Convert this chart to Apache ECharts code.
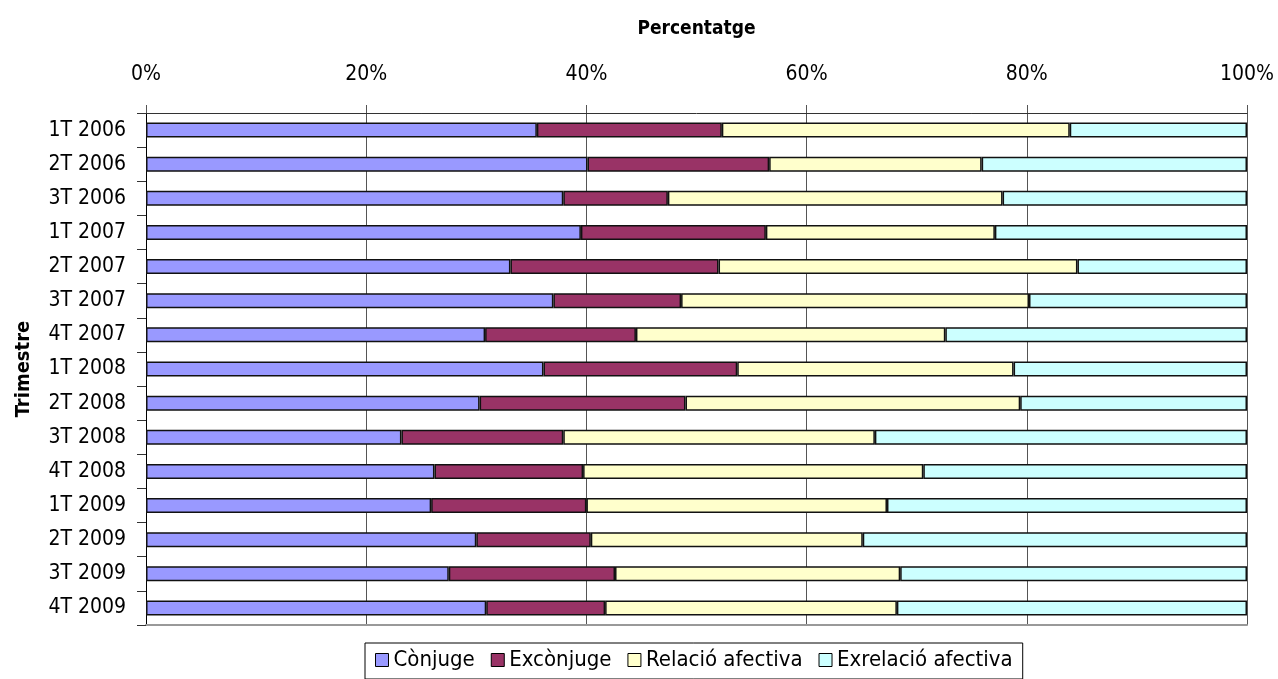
<!DOCTYPE html>
<html>
<head>
<meta charset="utf-8">
<script src="https://cdn.jsdelivr.net/npm/echarts@6/dist/echarts.min.js"></script>
<style>
html,body{margin:0;padding:0;background:#fff;}
#main{width:1278px;height:679px;}
</style>
</head>
<body>
<div id="main"></div>
<script>
// trimestres (eix vertical)
var trimestres = ['1T 2006','2T 2006','3T 2006','1T 2007','2T 2007','3T 2007','4T 2007',
	'1T 2008','2T 2008','3T 2008','4T 2008','1T 2009','2T 2009','3T 2009','4T 2009'];
// percentatges llegits del grafic
var conjuge      = [35.5,40.1,37.9,39.5,33.1,37.0,30.8,36.1,30.3,23.2,26.2,25.9,30.0,27.5,30.9];
var exconjuge    = [16.8,16.5, 9.5,16.8,18.9,11.6,13.7,17.6,18.7,14.7,13.5,14.1,10.4,15.1,10.8];
var relacio      = [31.6,19.3,30.4,20.8,32.6,31.6,28.1,25.1,30.4,28.3,30.9,27.3,24.7,25.9,26.5];
var exrelacio    = [16.1,24.1,22.2,22.9,15.4,19.8,27.4,21.2,20.6,33.8,29.4,32.7,34.9,31.5,31.8];
var noms   = ['Cònjuge','Excònjuge','Relació afectiva','Exrelació afectiva'];
var colors = ['#9999FF','#993366','#FFFFCC','#CCFFFF'];

var FONT = "'Liberation Sans Narrow','Arial Narrow','DejaVu Sans Condensed',sans-serif";

var chart = echarts.init(document.getElementById('main'));
var dades = [conjuge,exconjuge,relacio,exrelacio];
var series = [];
for (var i=0;i<dades.length;++i) {
	series.push({
		name: noms[i],
		type: 'bar',
		stack: 'total',
		barWidth: 15,
		itemStyle: {color: colors[i], borderColor: '#111', borderWidth: 1.5},
		emphasis: {disabled: true},
		data: dades[i]
	});
}

var option = {
	animation: false,
	textStyle: {fontFamily: FONT},
	grid: {left:146, right:31, top:113, bottom:54, containLabel:false},
	legend: {
		data: noms,
		left: 365, top: 643,
		padding: [6,10,8,10],
		borderColor: '#000', borderWidth: 1,
		itemWidth: 13, itemHeight: 13, itemGap: 16,
		icon: 'rect',
		itemStyle: {borderColor:'#000', borderWidth:1},
		textStyle: {fontFamily: FONT, fontSize: 22, color: '#000', padding:[0,0,0,0]}
	},
	xAxis: [{
		type: 'value', position: 'top',
		min: 0, max: 100, interval: 20,
		name: 'Percentatge', nameLocation: 'middle', nameGap: 74,
		nameTextStyle: {fontFamily: FONT, fontSize: 19, fontWeight: 'bold', color: '#000'},
		axisLine: {show: true, lineStyle: {color:'#333', width:1}},
		axisTick: {show: true, length: 8, lineStyle: {color:'#555'}},
		axisLabel: {formatter: '{value}%', fontFamily: FONT, fontSize: 21, color:'#000', margin: 28},
		splitLine: {show: true, lineStyle: {color:'#555', width:1}}
	},{
		type: 'value', position: 'bottom',
		min: 0, max: 100,
		axisLine: {show: true, lineStyle: {color:'#999', width:2}},
		axisTick: {show:false}, axisLabel: {show:false}, splitLine: {show:false}
	}],
	yAxis: {
		type: 'category', inverse: true,
		data: trimestres,
		name: 'Trimestre', nameLocation: 'middle', nameGap: 112, nameRotate: 90,
		nameTextStyle: {fontFamily: FONT, fontSize: 20, fontWeight: 'bold', color: '#000'},
		axisLine: {show: true, lineStyle: {color:'#000', width:1}},
		axisTick: {show: true, length: 9, alignWithLabel: false, lineStyle: {color:'#333'}},
		axisLabel: {fontFamily: FONT, fontSize: 21, color:'#000', margin: 20}
	},
	series: series
};
chart.setOption(option);
</script>
</body>
</html>
